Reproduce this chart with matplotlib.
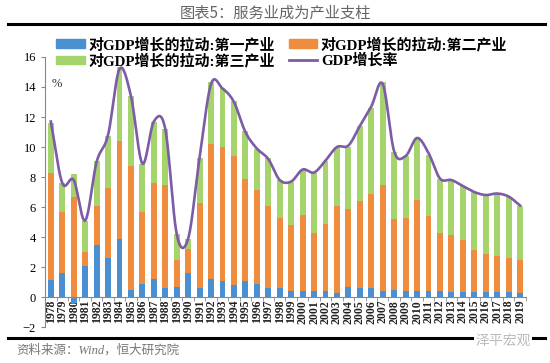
import numpy as np
import matplotlib
matplotlib.use('Agg')
import matplotlib.pyplot as plt
from matplotlib.lines import Line2D
from matplotlib.patches import Patch

plt.rcParams['font.family'] = ['Liberation Serif', 'Noto Sans CJK SC']

years = [str(y) for y in range(1978, 2020)]
primary = [1.15, 1.6, -0.4, 2.1, 3.5, 2.6, 3.9, 0.5, 0.9, 1.2, 0.6, 0.7, 1.6, 0.6,
           1.2, 1.1, 0.8, 1.05, 0.9, 0.6, 0.6, 0.4, 0.4, 0.4, 0.4, 0.3, 0.7, 0.6,
           0.6, 0.4, 0.5, 0.4, 0.4, 0.4, 0.4, 0.35, 0.35, 0.35, 0.35, 0.35, 0.35, 0.25]
secondary = [7.15, 4.1, 6.7, 0.9, 2.6, 4.7, 6.5, 8.25, 4.8, 6.4, 6.9, 1.8, 1.6, 5.7,
             9.0, 8.9, 8.6, 6.85, 6.25, 5.5, 4.7, 4.4, 5.1, 3.9, 4.5, 5.8, 5.2, 5.8,
             6.3, 7.1, 4.7, 4.9, 6.1, 5.0, 3.9, 3.8, 3.45, 2.8, 2.5, 2.4, 2.25, 2.25]
tertiary = [3.3, 1.9, 1.5, 2.1, 3.0, 3.45, 4.9, 4.65, 3.2, 4.1, 3.7, 1.7, 0.7, 3.0,
            4.1, 3.9, 3.7, 3.2, 2.75, 3.2, 2.5, 2.85, 3.0, 4.0, 4.2, 3.9, 4.1, 5.0,
            5.7, 6.8, 4.45, 4.1, 4.1, 4.1, 3.6, 3.65, 3.6, 3.85, 3.95, 4.15, 4.05, 3.6]
gdp = [11.7, 7.6, 7.8, 5.1, 9.0, 10.8, 15.2, 13.4, 8.9, 11.7, 11.2, 4.2, 3.9, 9.3,
       14.2, 13.9, 13.0, 11.0, 9.9, 9.2, 7.8, 7.7, 8.5, 8.3, 9.1, 10.0, 10.1, 11.4,
       12.7, 14.2, 9.7, 9.4, 10.6, 9.6, 7.9, 7.8, 7.4, 7.0, 6.8, 6.9, 6.7, 6.1]

c_blue = '#4a8fd0'
c_orange = '#f08c3e'
c_green = '#a5d46c'
c_purple = '#7d5ba6'


def smooth(xs, ys, n=20):
    # catmull-rom style curve like excel's smoothed line
    px = np.concatenate([[2 * xs[0] - xs[1]], xs, [2 * xs[-1] - xs[-2]]])
    py = np.concatenate([[2 * ys[0] - ys[1]], ys, [2 * ys[-1] - ys[-2]]])
    ox, oy = [], []
    for i in range(1, len(px) - 2):
        t = np.linspace(0, 1, n, endpoint=False)
        for p, out in ((px, ox), (py, oy)):
            p0, p1, p2, p3 = p[i - 1], p[i], p[i + 1], p[i + 2]
            out.extend(0.5 * (2 * p1 + (-p0 + p2) * t
                              + (2 * p0 - 5 * p1 + 4 * p2 - p3) * t ** 2
                              + (-p0 + 3 * p1 - 3 * p2 + p3) * t ** 3))
    ox.append(xs[-1])
    oy.append(ys[-1])
    return np.array(ox), np.array(oy)


fig = plt.figure(figsize=(5.5, 3.63), dpi=100)
ax = fig.add_axes([0.082, 0.099, 0.874, 0.744])
# move x axis to y=0 first (this resets the ticks)
ax.spines['bottom'].set_position(('data', 0))

idx = np.arange(len(years))
prim = np.array(primary)
sec = np.array(secondary)
ter = np.array(tertiary)
base2 = np.clip(prim, 0, None)
w = 0.52
p1 = ax.bar(idx, prim, w, color=c_blue, zorder=2)
p2 = ax.bar(idx, sec, w, bottom=base2, color=c_orange, zorder=2)
p3 = ax.bar(idx, ter, w, bottom=base2 + sec, color=c_green, zorder=2)

sx, sy = smooth(idx.astype(float), np.array(gdp, dtype=float))
ax.plot(sx, sy, color=c_purple, lw=1.9, zorder=3)

ax.set_xlim(-0.5, len(years) - 0.5)
ax.set_ylim(-2, 16)
ax.set_yticks(range(-2, 17, 2))
ax.set_xticks(idx)
ax.set_xticklabels(years)
ax.set_xticks(np.arange(-0.5, len(years), 1), minor=True)
ax.tick_params(axis='x', which='major', length=0, pad=2, labelrotation=90,
               labelsize=8.5, labelcolor='#222222')
ax.tick_params(axis='x', which='minor', length=3, direction='out', color='#888888')
ax.tick_params(axis='y', length=3, direction='out', labelsize=9, color='#888888')
for lab in ax.get_xticklabels():
    lab.set_fontweight('bold')
for s in ['top', 'right']:
    ax.spines[s].set_visible(False)
ax.spines['bottom'].set_color('#888888')
ax.spines['left'].set_color('#888888')

ax.text(0.1, 14.0, '%', fontsize=9, color='#333333')

handles = [Patch(color=c_blue), Patch(color=c_green), Patch(color=c_orange),
           Line2D([], [], color=c_purple, lw=2)]
labels = ['对GDP增长的拉动:第一产业', '对GDP增长的拉动:第三产业',
          '对GDP增长的拉动:第二产业', 'GDP增长率']
fig.legend(handles, labels, loc='upper left', bbox_to_anchor=(0.078, 0.935), ncol=2,
           frameon=False, prop={'size': 10.8, 'weight': 'bold'}, handlelength=1.9,
           handleheight=0.5, handletextpad=0.25, columnspacing=0.9, labelspacing=0.1)

fig.text(0.5, 0.965, '图表5：服务业成为产业支柱', ha='center', va='center',
         fontsize=11, color='#666666', family=['Noto Sans CJK SC'])
fig.add_artist(Line2D([0.015, 0.99], [0.934, 0.934], color='black', lw=2.2))
fig.add_artist(Line2D([0.015, 0.99], [0.069, 0.069], color='black', lw=2.2))
fig.text(0.03, 0.035, '资料来源：Wind，恒大研究院', ha='left', va='center', fontsize=9,
         color='#777777', style='italic')
fig.text(0.965, 0.062, '泽平宏观', ha='right', va='center', fontsize=10,
         color='#bbbbbb', family=['Noto Sans CJK SC'],
         bbox=dict(facecolor='white', edgecolor='none', pad=1))

fig.savefig('out.png', dpi=100)
